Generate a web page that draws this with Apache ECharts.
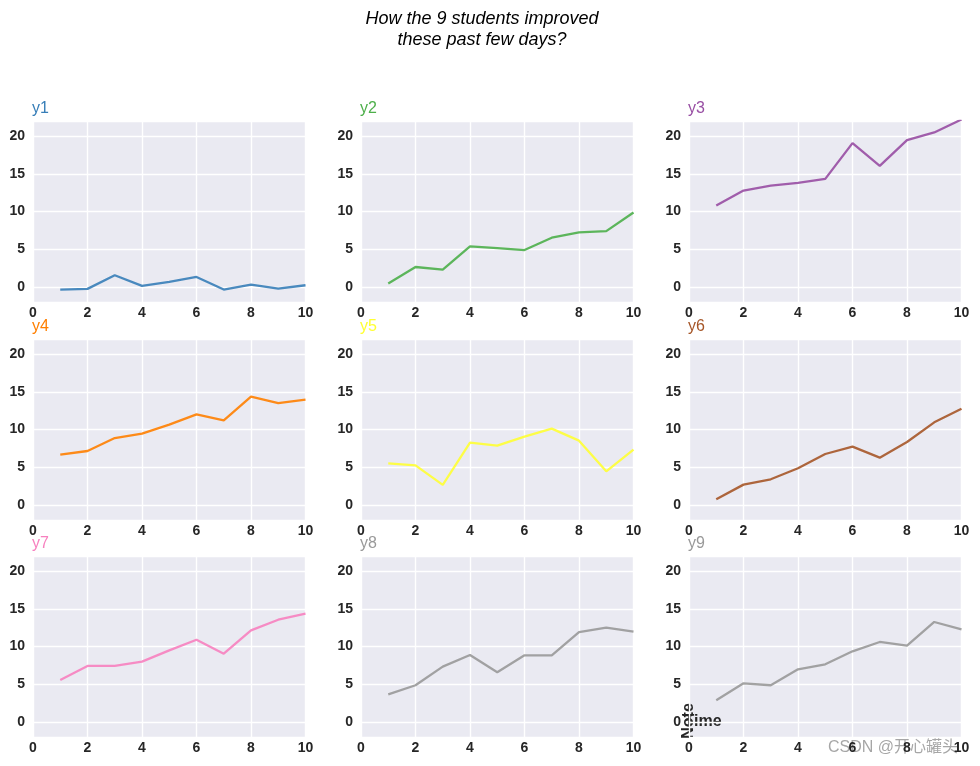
<!DOCTYPE html>
<html>
<head>
<meta charset="utf-8">
<script src="https://cdn.jsdelivr.net/npm/echarts@6/dist/echarts.min.js"></script>
<style>html,body{margin:0;padding:0;background:#fff;}#c{width:980px;height:766px;}</style>
</head>
<body>
<div id="c"></div>
<script>
const xValues = [1, 2, 3, 4, 5, 6, 7, 8, 9, 10];
const seriesNames = ['y1', 'y2', 'y3', 'y4', 'y5', 'y6', 'y7', 'y8', 'y9'];
const y1 = [-0.35, -0.26, 1.54, 0.13, 0.66, 1.32, -0.35, 0.31, -0.22, 0.22];
const y2 = [0.44, 2.64, 2.29, 5.37, 5.15, 4.89, 6.52, 7.22, 7.4, 9.87];
const y3 = [10.79, 12.78, 13.44, 13.79, 14.32, 19.07, 16.04, 19.47, 20.48, 22.2];
const y4 = [6.67, 7.15, 8.87, 9.45, 10.64, 12.0, 11.21, 14.35, 13.51, 13.95];
const y5 = [5.52, 5.25, 2.65, 8.26, 7.86, 9.05, 10.11, 8.52, 4.46, 7.33];
const y6 = [0.75, 2.69, 3.4, 4.86, 6.75, 7.73, 6.27, 8.34, 10.95, 12.76];
const y7 = [5.56, 7.42, 7.42, 7.99, 9.49, 10.9, 9.05, 12.14, 13.55, 14.35];
const y8 = [3.66, 4.86, 7.33, 8.87, 6.58, 8.83, 8.83, 11.92, 12.49, 11.96];
const y9 = [2.87, 5.12, 4.86, 6.98, 7.64, 9.36, 10.6, 10.11, 13.25, 12.27];
const allY = [y1, y2, y3, y4, y5, y6, y7, y8, y9];
const titleText = 'How the 9 students improved\nthese past few days?';
const xLabelText = 'Time';
const yLabelText = 'Note';
const watermark = 'CSDN @开心罐头';

const palette = ['#377eb8', '#4daf4a', '#984ea3', '#ff7f00', '#ffff33', '#a65628', '#f781bf', '#999999', '#999999'];
function rgba(hex, a) {
  const r = parseInt(hex.slice(1, 3), 16), g = parseInt(hex.slice(3, 5), 16), b = parseInt(hex.slice(5, 7), 16);
  return 'rgba(' + r + ',' + g + ',' + b + ',' + a + ')';
}

const colLefts = [33, 361, 689];
const rowTops = [121, 339, 556];
const gw = 272.5, gh = 181;
const font = '"Liberation Sans", Arial, sans-serif';

const grids = [], xAxes = [], yAxes = [], series = [], graphics = [];
for (let i = 0; i < 9; i++) {
  const r = Math.floor(i / 3), c = i % 3;
  grids.push({left: colLefts[c], top: rowTops[r], width: gw, height: gh, show: true,
    backgroundColor: '#EAEAF2', borderWidth: 0, containLabel: false});
  xAxes.push({type: 'value', gridIndex: i, min: 0, max: 10, interval: 2,
    axisLine: {show: false}, axisTick: {show: false},
    axisLabel: {color: '#262626', fontWeight: 'bold', fontSize: 14, fontFamily: font, margin: 4},
    splitLine: {show: true, lineStyle: {color: '#ffffff', width: 1.4}}});
  yAxes.push({type: 'value', gridIndex: i, min: -2, max: 22, splitNumber: 5,
    axisLine: {show: false}, axisTick: {show: false},
    axisLabel: {color: '#262626', fontWeight: 'bold', fontSize: 14, fontFamily: font, margin: 8,
      showMinLabel: false, showMaxLabel: false,
      formatter: v => (v % 5 === 0 ? String(v) : '')},
    splitLine: {show: true, lineStyle: {color: '#ffffff', width: 1.4}}});
  series.push({type: 'line', name: seriesNames[i], xAxisIndex: i, yAxisIndex: i,
    data: xValues.map((x, k) => [x, allY[i][k]]),
    showSymbol: false, symbol: 'none', clip: true,
    lineStyle: {color: rgba(palette[i], 0.9), width: 2.3},
    itemStyle: {color: rgba(palette[i], 0.9)}});
  graphics.push({type: 'text', left: colLefts[c] - 1, top: rowTops[r] - 20,
    style: {text: seriesNames[i], fill: palette[i], font: '16px ' + font}});
}

graphics.push({type: 'text', x: 482, y: 8,
  style: {text: titleText, fill: '#000', font: 'italic 18px ' + font, textAlign: 'center', lineHeight: 21}});
graphics.push({type: 'text', x: 703, y: 722,
  style: {text: xLabelText, fill: '#262626', font: 'bold 16px ' + font, textAlign: 'center', textVerticalAlign: 'middle'}});
graphics.push({type: 'text', x: 689, y: 721, rotation: Math.PI / 2,
  style: {text: yLabelText, fill: '#262626', font: 'bold 16px ' + font, textAlign: 'center', textVerticalAlign: 'middle'}});
graphics.push({type: 'text', x: 828, y: 748,
  style: {text: watermark, fill: 'rgba(150,150,150,0.85)', font: '16px "Liberation Sans", "Noto Sans CJK SC", sans-serif', textVerticalAlign: 'middle'}});

const chart = echarts.init(document.getElementById('c'), null, {renderer: 'canvas'});
chart.setOption({
  animation: false,
  backgroundColor: '#ffffff',
  grid: grids, xAxis: xAxes, yAxis: yAxes, series: series,
  graphic: graphics
});
</script>
</body>
</html>
